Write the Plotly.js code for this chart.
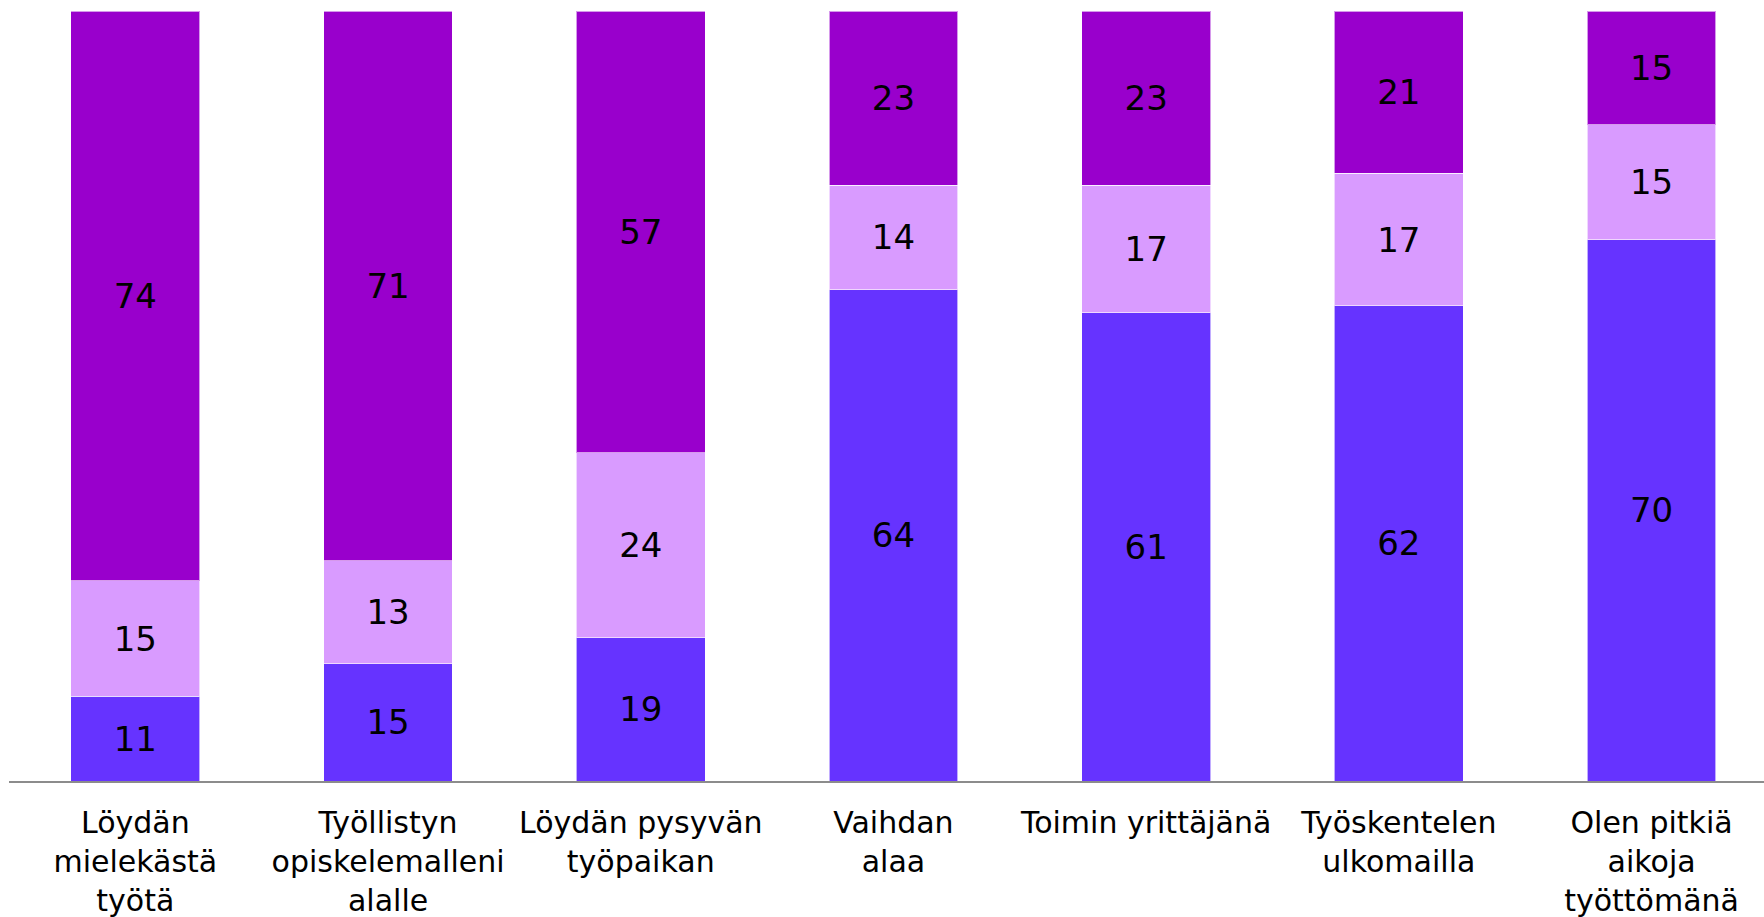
<!DOCTYPE html>
<html>
<head>
<meta charset="utf-8">
<script src="https://cdn.plot.ly/plotly-3.0.1.min.js"></script>
<style>html,body{margin:0;padding:0;background:#fff;overflow:hidden}#chart{width:1764px;height:917px}</style>
</head>
<body>
<div id="chart"></div>
<script>
const categories = [
  "Löydän<br>mielekästä<br>työtä",
  "Työllistyn<br>opiskelemalleni<br>alalle",
  "Löydän pysyvän<br>työpaikan",
  "Vaihdan<br>alaa",
  "Toimin yrittäjänä",
  "Työskentelen<br>ulkomailla",
  "Olen pitkiä<br>aikoja<br>työttömänä"
];
const seriesBottom = [11, 15.2, 18.6, 63.8, 60.8, 61.7, 70.3];
const seriesMiddle = [15, 13.4, 24.0, 13.6, 16.6, 17.2, 14.9];
const seriesTop    = [74, 71.4, 57.4, 22.6, 22.6, 21.1, 14.8];

const colors = ["#6633FF", "#D99BFF", "#9900CC"];
const names = ["Sarja 1", "Sarja 2", "Sarja 3"];
const vals = [seriesBottom, seriesMiddle, seriesTop];

const traces = vals.map((v, i) => ({
  type: "bar",
  name: names[i],
  x: categories,
  y: v,
  width: 0.51,
  marker: {color: colors[i], line: {color: "rgba(255,255,255,0.6)", width: 1}},
  texttemplate: "%{y:.0f}",
  textposition: "inside",
  insidetextanchor: "middle",
  textangle: 0,
  constraintext: "none",
  textfont: {family: "DejaVu Sans", size: 34, color: "#000"},
  hoverinfo: "skip"
}));

const layout = {
  width: 1764, height: 917,
  barmode: "stack",
  showlegend: false,
  paper_bgcolor: "#fff", plot_bgcolor: "#fff",
  margin: {l: 9, r: 0, t: 11, b: 136},
  xaxis: {
    range: [-0.5, 6.445],
    showgrid: false, zeroline: false,
    showline: true, linecolor: "#8c8c8c", linewidth: 1.5,
    ticks: "", ticklabelstandoff: 14,
    tickfont: {family: "DejaVu Sans", size: 30, color: "#000"}
  },
  yaxis: {
    range: [0, 100], visible: false, showgrid: false, zeroline: false
  }
};

Plotly.newPlot("chart", traces, layout, {displayModeBar: false, staticPlot: true});
</script>
</body>
</html>
